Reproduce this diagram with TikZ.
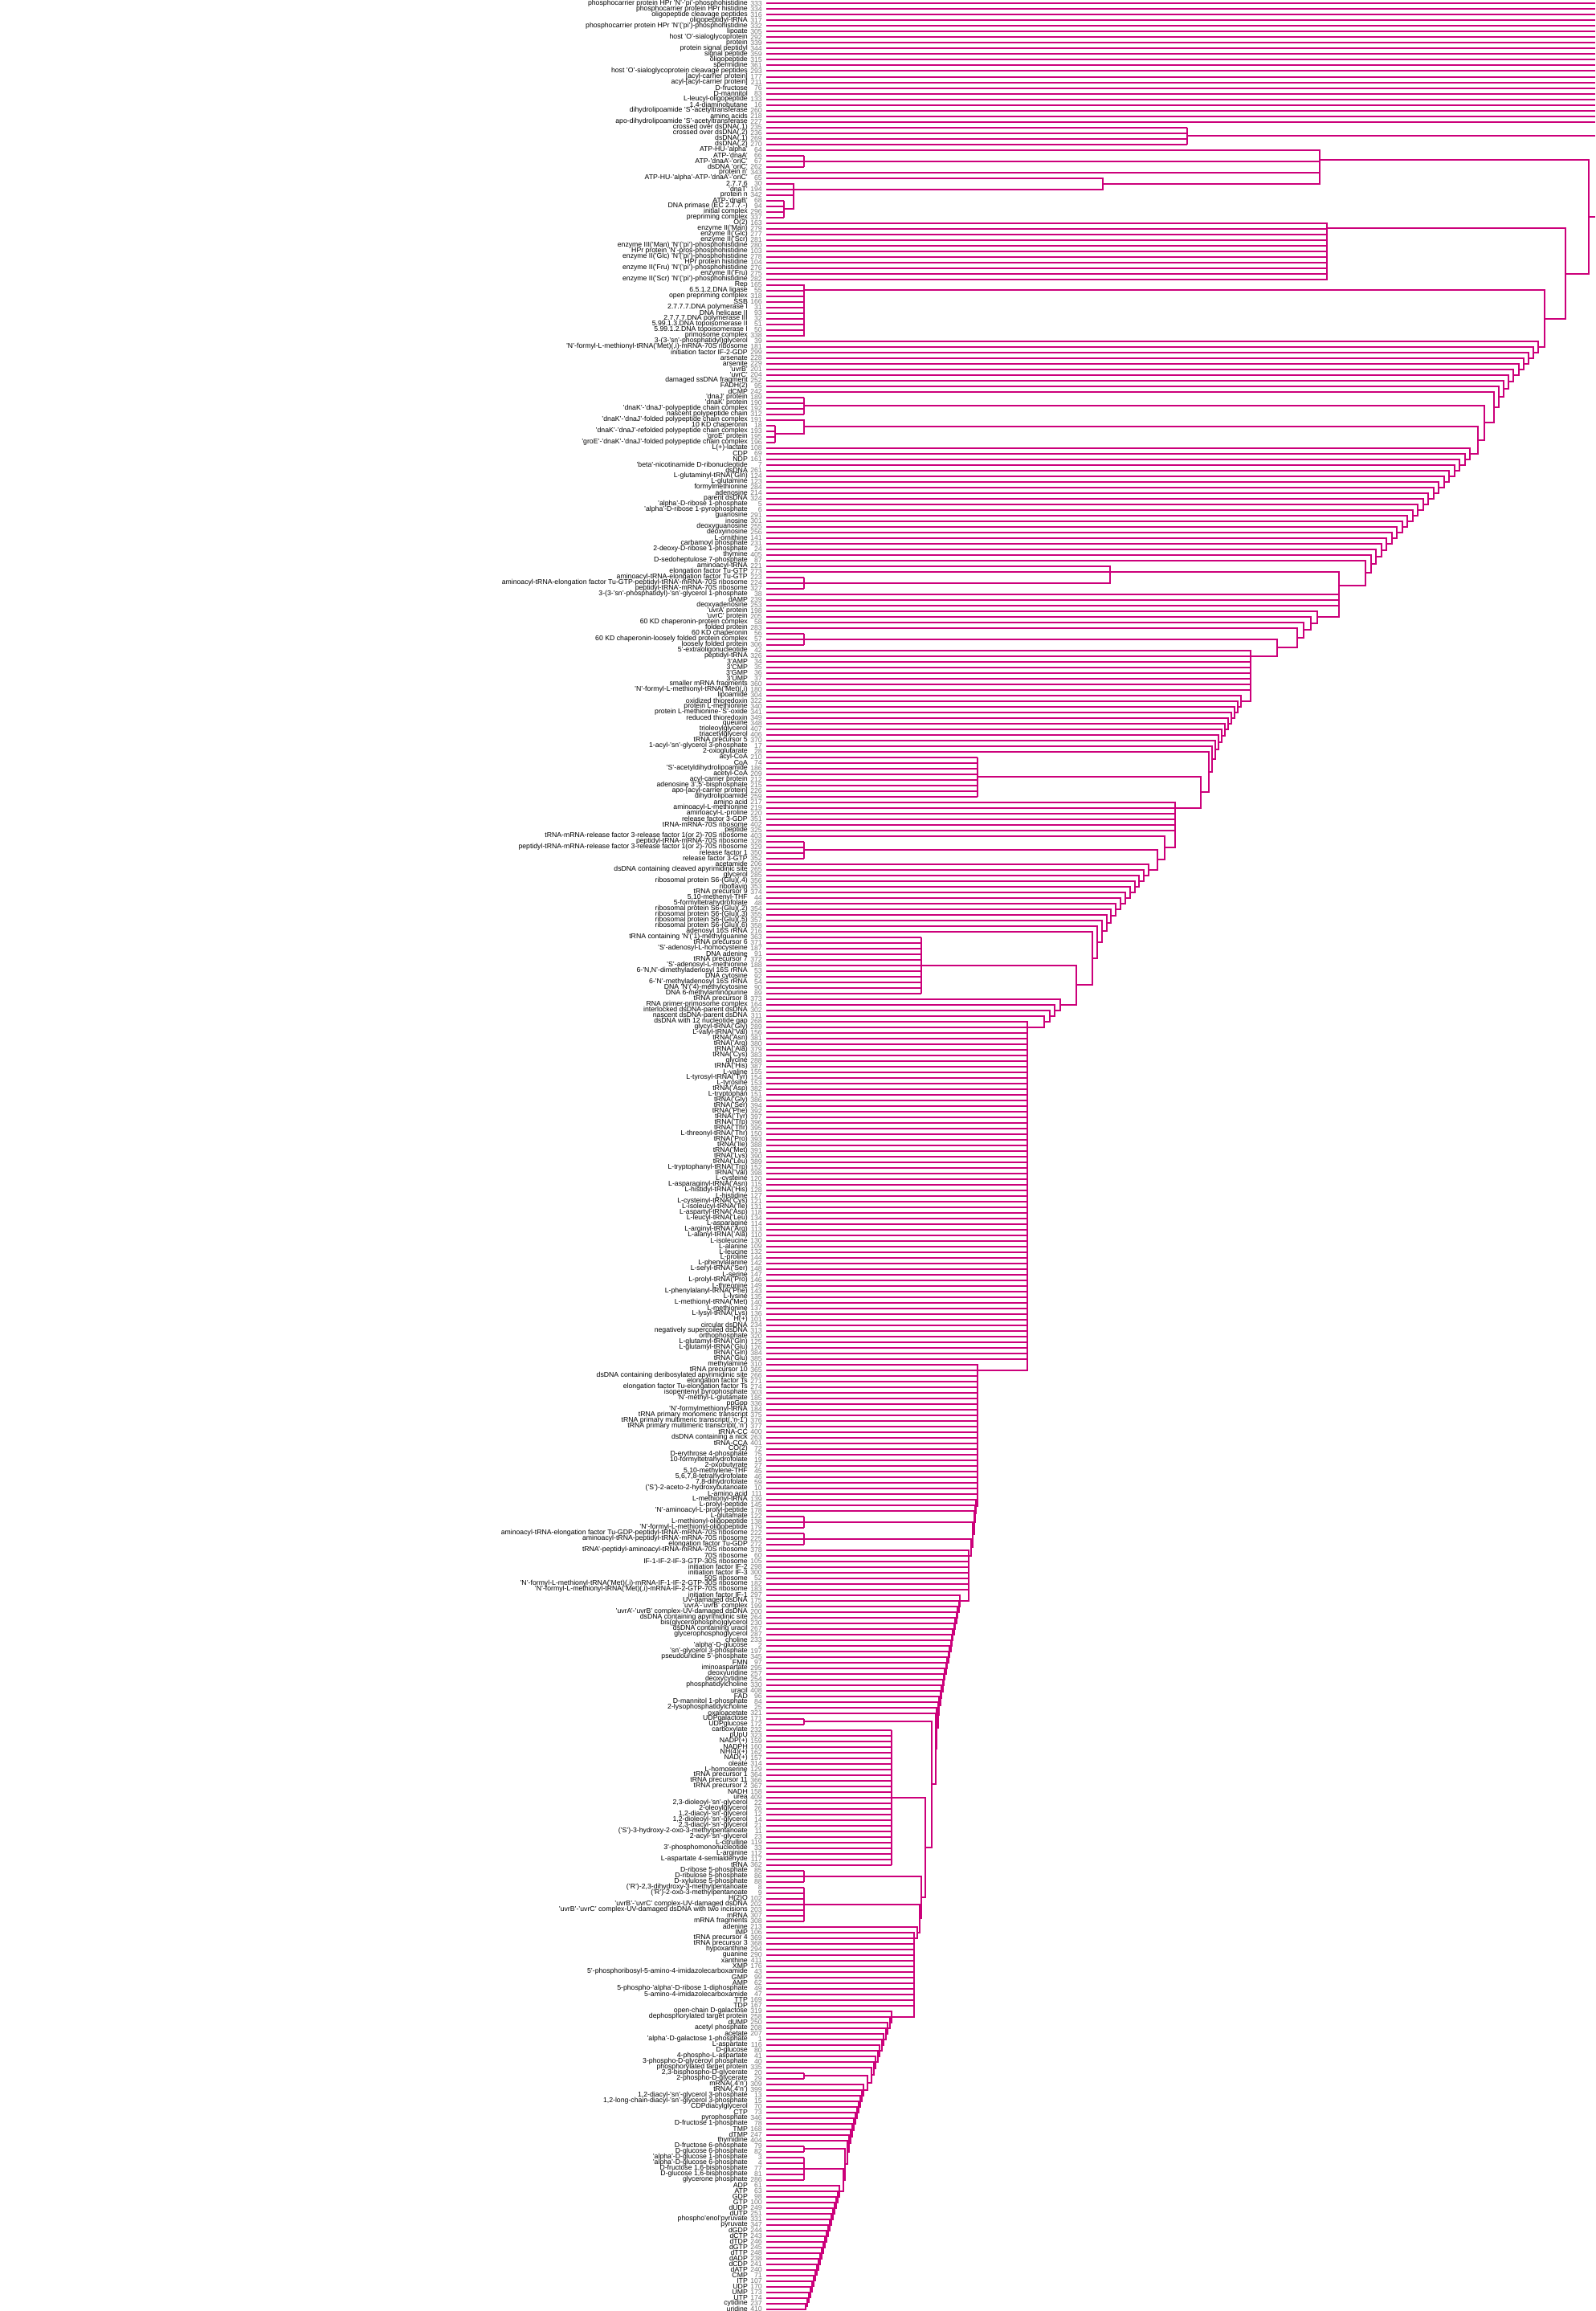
\documentclass[tikz,border=0pt]{standalone}
\usepackage{fontspec}
\setmainfont{Liberation Sans}
\definecolor{dendroPink}{RGB}{204,0,122}
\definecolor{numGray}{RGB}{120,120,120}

% chain of merges, built from the bottom up (x = height, y = row)
\newcommand{\cury}{0}
\newcommand{\curh}{0}
\newcommand{\chainstart}[2]{\xdef\cury{#1}\xdef\curh{#2}}
\newcommand{\chainstep}[3]{%
  \draw[edge] (#2,#1) -- (#3,#1) -- (#3,\cury) -- (\curh,\cury);
  \pgfmathsetmacro\nexty{(#1+\cury)/2}%
  \xdef\cury{\nexty}\xdef\curh{#3}}
\newcommand{\chainrange}[4]{%
  \foreach \rr in {#1,...,#2}{%
    \pgfmathsetmacro\hgt{#3+(#4-#3)*(#1-\rr)/max(1,#1-#2)}%
    \chainstep{\rr}{954}{\hgt}}}
\newcommand{\flatgroup}[3]{% leaves #1..#2 on one bar at #3, stem in the middle
  \foreach \rr in {#1,...,#2}{\draw[edge] (954,\rr) -- (#3,\rr);}
  \draw[edge] (#3,#1) -- (#3,#2);
  \pgfmathsetmacro\midy{(#1+#2)/2}%
  \xdef\cury{\midy}\xdef\curh{#3}}

\begin{document}
\begin{tikzpicture}[x=1pt, y=-7pt,
    lab/.style={anchor=east, inner sep=0pt, font=\fontsize{8.7}{9}\selectfont},
    num/.style={anchor=east, inner sep=0pt, text=numGray, font=\fontsize{8.7}{9}\selectfont},
    edge/.style={draw=dendroPink, line width=2pt, line join=miter}
  ]
  \useasboundingbox (0,-0.643) rectangle (1986,410.357);

  % ---- leaf labels -------------------------------------------------------
  \foreach \lab/\num [count=\r from 0] in {
    {phosphocarrier protein HPr 'N'-'pi'-phosphohistidine}/333,
    {phosphocarrier protein HPr histidine}/334,
    {oligopeptide cleavage peptides}/316,
    {oligopeptidyl-tRNA}/317,
    {phosphocarrier protein HPr 'N'('pi')-phosphohistidine}/332,
    {lipoate}/305,
    {host 'O'-sialoglycoprotein}/292,
    {protein}/339,
    {protein signal peptidyl}/344,
    {signal peptide}/359,
    {oligopeptide}/315,
    {spermidine}/361,
    {host 'O'-sialoglycoprotein cleavage peptides}/293,
    {[acyl-carrier protein]}/177,
    {acyl-[acyl-carrier protein]}/211,
    {D-fructose}/76,
    {D-mannitol}/83,
    {L-leucyl-oligopeptide}/133,
    {1,4-diaminobutane}/16,
    {dihydrolipoamide 'S'-acetyltransferase}/260,
    {amino acids}/218,
    {apo-dihydrolipoamide 'S'-acetyltransferase}/227,
    {crossed over dsDNA(,1)}/235,
    {crossed over dsDNA(,2)}/236,
    {dsDNA(,1)}/269,
    {dsDNA(,2)}/270,
    {ATP-HU-'alpha'}/64,
    {ATP-'dnaA'}/66,
    {ATP-'dnaA'-'oriC'}/67,
    {dsDNA 'oriC'}/262,
    {protein n'}/343,
    {ATP-HU-'alpha'-ATP-'dnaA'-'oriC'}/65,
    {2.7.7.6}/30,
    {'dnaT'}/194,
    {protein n}/342,
    {ATP-'dnaB'}/68,
    {DNA primase (EC 2.7.7.-)}/94,
    {initial complex}/296,
    {prepriming complex}/337,
    {O(2)}/163,
    {enzyme II('Man)}/279,
    {enzyme II('Glc)}/277,
    {enzyme II('Scr)}/281,
    {enzyme III('Man) 'N'('pi')-phosphohistidine}/280,
    {HPr protein 'N'-pros-phosphohistidine}/103,
    {enzyme II('Glc) 'N'('pi')-phosphohistidine}/278,
    {HPr protein histidine}/104,
    {enzyme II('Fru) 'N'('pi')-phosphohistidine}/276,
    {enzyme II('Fru)}/275,
    {enzyme II('Scr) 'N'('pi')-phosphohistidine}/282,
    {Rep}/165,
    {6.5.1.2.DNA ligase}/55,
    {open prepriming complex}/318,
    {SSB}/166,
    {2.7.7.7.DNA polymerase I}/31,
    {DNA helicase II}/93,
    {2.7.7.7.DNA polymerase III}/32,
    {5.99.1.3.DNA topoisomerase II}/51,
    {5.99.1.2.DNA topoisomerase I}/50,
    {primosome complex}/338,
    {3-(3-'sn'-phosphatidyl)glycerol}/39,
    {'N'-formyl-L-methionyl-tRNA('Met)(,i)-mRNA-70S ribosome}/181,
    {initiation factor IF-2-GDP}/299,
    {arsenate}/228,
    {arsenite}/229,
    {'uvrB'}/201,
    {'uvrC'}/204,
    {damaged ssDNA fragment}/252,
    {FADH(2)}/95,
    {dCMP}/242,
    {'dnaJ' protein}/189,
    {'dnaK' protein}/190,
    {'dnaK'-'dnaJ'-polypeptide chain complex}/192,
    {nascent polypeptide chain}/312,
    {'dnaK'-'dnaJ'-folded polypeptide chain complex}/191,
    {10 KD chaperonin}/18,
    {'dnaK'-'dnaJ'-refolded polypeptide chain complex}/193,
    {'groE' protein}/195,
    {'groE'-'dnaK'-'dnaJ'-folded polypeptide chain complex}/196,
    {L(+)-lactate}/108,
    {CDP}/69,
    {NDP}/161,
    {'beta'-nicotinamide D-ribonucleotide}/7,
    {dsDNA}/261,
    {L-glutaminyl-tRNA('Gln)}/124,
    {L-glutamine}/123,
    {formylmethionine}/284,
    {adenosine}/214,
    {parent dsDNA}/324,
    {'alpha'-D-ribose 1-phosphate}/5,
    {'alpha'-D-ribose 1-pyrophosphate}/6,
    {guanosine}/291,
    {inosine}/301,
    {deoxyguanosine}/255,
    {deoxyinosine}/256,
    {L-ornithine}/141,
    {carbamoyl phosphate}/231,
    {2-deoxy-D-ribose 1-phosphate}/24,
    {thymine}/405,
    {D-sedoheptulose 7-phosphate}/87,
    {aminoacyl-tRNA}/221,
    {elongation factor Tu-GTP}/273,
    {aminoacyl-tRNA-elongation factor Tu-GTP}/223,
    {aminoacyl-tRNA-elongation factor Tu-GTP-peptidyl-tRNA'-mRNA-70S ribosome}/224,
    {peptidyl-tRNA'-mRNA-70S ribosome}/327,
    {3-(3-'sn'-phosphatidyl)-'sn'-glycerol 1-phosphate}/38,
    {dAMP}/239,
    {deoxyadenosine}/253,
    {'uvrA' protein}/198,
    {'uvrC' protein}/205,
    {60 KD chaperonin-protein complex}/58,
    {folded protein}/283,
    {60 KD chaperonin}/56,
    {60 KD chaperonin-loosely folded protein complex}/57,
    {loosely folded protein}/306,
    {5'-extraoligonucleotide}/42,
    {peptidyl-tRNA}/326,
    {3'AMP}/34,
    {3'CMP}/35,
    {3'GMP}/36,
    {3'UMP}/37,
    {smaller mRNA fragments}/360,
    {'N'-formyl-L-methionyl-tRNA('Met)(,i)}/180,
    {lipoamide}/304,
    {oxidized thioredoxin}/322,
    {protein L-methionine}/340,
    {protein L-methionine-'S'-oxide}/341,
    {reduced thioredoxin}/349,
    {queuine}/348,
    {trioleoylglycerol}/407,
    {triacetylglycerol}/406,
    {tRNA precursor 5}/370,
    {1-acyl-'sn'-glycerol 3-phosphate}/17,
    {2-oxoglutarate}/28,
    {acyl-CoA}/210,
    {CoA}/74,
    {'S'-acetyldihydrolipoamide}/186,
    {acetyl-CoA}/209,
    {acyl-carrier protein}/212,
    {adenosine 3',5'-bisphosphate}/215,
    {apo-[acyl-carrier protein]}/226,
    {dihydrolipoamide}/259,
    {amino acid}/217,
    {aminoacyl-L-methionine}/219,
    {aminoacyl-L-proline}/220,
    {release factor 3-GDP}/351,
    {tRNA-mRNA-70S ribosome}/402,
    {peptide}/325,
    {tRNA-mRNA-release factor 3-release factor 1(or 2)-70S ribosome}/403,
    {peptidyl-tRNA-mRNA-70S ribosome}/328,
    {peptidyl-tRNA-mRNA-release factor 3-release factor 1(or 2)-70S ribosome}/329,
    {release factor 1}/350,
    {release factor 3-GTP}/352,
    {acetamide}/206,
    {dsDNA containing cleaved apyrimidinic site}/265,
    {glycerol}/285,
    {ribosomal protein S6-(Glu)(,4)}/356,
    {riboflavin}/353,
    {tRNA precursor 9}/374,
    {5,10-methenyl-THF}/44,
    {5-formyltetrahydrofolate}/48,
    {ribosomal protein S6-(Glu)(,2)}/354,
    {ribosomal protein S6-(Glu)(,3)}/355,
    {ribosomal protein S6-(Glu)(,5)}/357,
    {ribosomal protein S6-(Glu)(,6)}/358,
    {adenosyl 16S rRNA}/216,
    {tRNA containing 'N'('1)-methylguanine}/363,
    {tRNA precursor 6}/371,
    {'S'-adenosyl-L-homocysteine}/187,
    {DNA adenine}/91,
    {tRNA precursor 7}/372,
    {'S'-adenosyl-L-methionine}/188,
    {6-'N,N'-dimethyladenosyl 16S rRNA}/53,
    {DNA cytosine}/92,
    {6-'N'-methyladenosyl 16S rRNA}/54,
    {DNA 'N'('4)-methylcytosine}/90,
    {DNA 6-methylaminopurine}/89,
    {tRNA precursor 8}/373,
    {RNA primer-primosome complex}/164,
    {interlocked dsDNA-parent dsDNA}/302,
    {nascent dsDNA-parent dsDNA}/311,
    {dsDNA with 12 nucleotide gap}/268,
    {glycyl-tRNA('Gly)}/289,
    {L-valyl-tRNA('Val)}/156,
    {tRNA('Asn)}/381,
    {tRNA('Arg)}/380,
    {tRNA('Ala)}/379,
    {tRNA('Cys)}/383,
    {glycine}/288,
    {tRNA('His)}/387,
    {L-valine}/155,
    {L-tyrosyl-tRNA('Tyr)}/154,
    {L-tyrosine}/153,
    {tRNA('Asp)}/382,
    {L-tryptophan}/151,
    {tRNA('Gly)}/386,
    {tRNA('Ser)}/394,
    {tRNA('Phe)}/392,
    {tRNA('Tyr)}/397,
    {tRNA('Trp)}/396,
    {tRNA('Thr)}/395,
    {L-threonyl-tRNA('Thr)}/150,
    {tRNA('Pro)}/393,
    {tRNA('Ile)}/388,
    {tRNA('Met)}/391,
    {tRNA('Lys)}/390,
    {tRNA('Leu)}/389,
    {L-tryptophanyl-tRNA('Trp)}/152,
    {tRNA('Val)}/398,
    {L-cysteine}/120,
    {L-asparaginyl-tRNA('Asn)}/115,
    {L-histidyl-tRNA('His)}/128,
    {L-histidine}/127,
    {L-cysteinyl-tRNA('Cys)}/121,
    {L-isoleucyl-tRNA('Ile)}/131,
    {L-aspartyl-tRNA('Asp)}/118,
    {L-leucyl-tRNA('Leu)}/134,
    {L-asparagine}/114,
    {L-arginyl-tRNA('Arg)}/113,
    {L-alanyl-tRNA('Ala)}/110,
    {L-isoleucine}/130,
    {L-alanine}/109,
    {L-leucine}/132,
    {L-proline}/144,
    {L-phenylalanine}/142,
    {L-seryl-tRNA('Ser)}/148,
    {L-serine}/147,
    {L-prolyl-tRNA('Pro)}/146,
    {L-threonine}/149,
    {L-phenylalanyl-tRNA('Phe)}/143,
    {L-lysine}/135,
    {L-methionyl-tRNA('Met)}/140,
    {L-methionine}/137,
    {L-lysyl-tRNA('Lys)}/136,
    {H(+)}/101,
    {circular dsDNA}/234,
    {negatively supercoiled dsDNA}/313,
    {orthophosphate}/320,
    {L-glutamyl-tRNA('Gln)}/125,
    {L-glutamyl-tRNA('Glu)}/126,
    {tRNA('Gln)}/384,
    {tRNA('Glu)}/385,
    {methylamine}/310,
    {tRNA precursor 10}/365,
    {dsDNA containing deribosylated apyrimidinic site}/266,
    {elongation factor Ts}/271,
    {elongation factor Tu-elongation factor Ts}/274,
    {isopentenyl pyrophosphate}/303,
    {'N'-methyl-L-glutamate}/185,
    {ppGpp}/336,
    {'N'-formylmethionyl-tRNA}/184,
    {tRNA primary monomeric transcript}/375,
    {tRNA primary multimeric transcript(,'n-1')}/376,
    {tRNA primary multimeric transcript(,'n')}/377,
    {tRNA-CC}/400,
    {dsDNA containing a nick}/263,
    {tRNA-CCA}/401,
    {CO(2)}/72,
    {D-erythrose 4-phosphate}/75,
    {10-formyltetrahydrofolate}/19,
    {2-oxobutyrate}/27,
    {5,10-methylene-THF}/45,
    {5,6,7,8-tetrahydrofolate}/46,
    {7,8-dihydrofolate}/59,
    {('S')-2-aceto-2-hydroxybutanoate}/10,
    {L-amino acid}/111,
    {L-methionyl-tRNA}/139,
    {L-prolyl-peptide}/145,
    {'N'-aminoacyl-L-prolyl-peptide}/178,
    {L-glutamate}/122,
    {L-methionyl-oligopeptide}/138,
    {'N'-formyl-L-methionyl-oligopeptide}/179,
    {aminoacyl-tRNA-elongation factor Tu-GDP-peptidyl-tRNA'-mRNA-70S ribosome}/222,
    {aminoacyl-tRNA-peptidyl-tRNA'-mRNA-70S ribosome}/225,
    {elongation factor Tu-GDP}/272,
    {tRNA'-peptidyl-aminoacyl-tRNA-mRNA-70S ribosome}/378,
    {70S ribosome}/60,
    {IF-1-IF-2-IF-3-GTP-30S ribosome}/105,
    {initiation factor IF-2}/298,
    {initiation factor IF-3}/300,
    {50S ribosome}/52,
    {'N'-formyl-L-methionyl-tRNA('Met)(,i)-mRNA-IF-1-IF-2-GTP-30S ribosome}/182,
    {'N'-formyl-L-methionyl-tRNA('Met)(,i)-mRNA-IF-2-GTP-70S ribosome}/183,
    {initiation factor IF-1}/297,
    {UV-damaged dsDNA}/175,
    {'uvrA'-'uvrB' complex}/199,
    {'uvrA'-'uvrB' complex-UV-damaged dsDNA}/200,
    {dsDNA containing apyrimidinic site}/264,
    {bis(glycerophospho)glycerol}/230,
    {dsDNA containing uracil}/267,
    {glycerophosphoglycerol}/287,
    {choline}/233,
    {'alpha'-D-glucose}/2,
    {'sn'-glycerol 3-phosphate}/197,
    {pseudouridine 5'-phosphate}/345,
    {FMN}/97,
    {iminoaspartate}/295,
    {deoxyuridine}/257,
    {deoxycytidine}/254,
    {phosphatidylcholine}/330,
    {uracil}/408,
    {FAD}/96,
    {D-mannitol 1-phosphate}/84,
    {2-lysophosphatidylcholine}/25,
    {oxaloacetate}/321,
    {UDPgalactose}/171,
    {UDPglucose}/172,
    {carboxylate}/232,
    {pUpU}/323,
    {NADP(+)}/159,
    {NADPH}/160,
    {NH(4)(+)}/162,
    {NAD(+)}/157,
    {oleate}/314,
    {L-homoserine}/129,
    {tRNA precursor 1}/364,
    {tRNA precursor 11}/366,
    {tRNA precursor 2}/367,
    {NADH}/158,
    {urea}/409,
    {2,3-dioleoyl-'sn'-glycerol}/22,
    {2-oleoylglycerol}/26,
    {1,2-diacyl-'sn'-glycerol}/12,
    {1,2-dioleoyl-'sn'-glycerol}/14,
    {2,3-diacyl-'sn'-glycerol}/21,
    {('S')-3-hydroxy-2-oxo-3-methylpentanoate}/11,
    {2-acyl-'sn'-glycerol}/23,
    {L-citrulline}/119,
    {3'-phosphomononucleotide}/33,
    {L-arginine}/112,
    {L-aspartate 4-semialdehyde}/117,
    {tRNA}/362,
    {D-ribose 5-phosphate}/85,
    {D-ribulose 5-phosphate}/86,
    {D-xylulose 5-phosphate}/88,
    {('R')-2,3-dihydroxy-3-methylpentanoate}/8,
    {('R')-2-oxo-3-methylpentanoate}/9,
    {H(2)O}/102,
    {'uvrB'-'uvrC' complex-UV-damaged dsDNA}/202,
    {'uvrB'-'uvrC' complex-UV-damaged dsDNA with two incisions}/203,
    {mRNA}/307,
    {mRNA fragments}/308,
    {adenine}/213,
    {IMP}/106,
    {tRNA precursor 4}/369,
    {tRNA precursor 3}/368,
    {hypoxanthine}/294,
    {guanine}/290,
    {xanthine}/411,
    {XMP}/176,
    {5'-phosphoribosyl-5-amino-4-imidazolecarboxamide}/43,
    {GMP}/99,
    {AMP}/62,
    {5-phospho-'alpha'-D-ribose 1-diphosphate}/49,
    {5-amino-4-imidazolecarboxamide}/47,
    {TTP}/169,
    {TDP}/167,
    {open-chain D-galactose}/319,
    {dephosphorylated target protein}/258,
    {dUMP}/250,
    {acetyl phosphate}/208,
    {acetate}/207,
    {'alpha'-D-galactose 1-phosphate}/1,
    {L-aspartate}/116,
    {D-glucose}/80,
    {4-phospho-L-aspartate}/41,
    {3-phospho-D-glyceroyl phosphate}/40,
    {phosphorylated target protein}/335,
    {2,3-bisphospho-D-glycerate}/20,
    {2-phospho-D-glycerate}/29,
    {mRNA(,4'n')}/309,
    {tRNA(,4'n')}/399,
    {1,2-diacyl-'sn'-glycerol 3-phosphate}/13,
    {1,2-long-chain-diacyl-'sn'-glycerol 3-phosphate}/15,
    {CDPdiacylglycerol}/70,
    {CTP}/73,
    {pyrophosphate}/346,
    {D-fructose 1-phosphate}/78,
    {TMP}/168,
    {dTMP}/247,
    {thymidine}/404,
    {D-fructose 6-phosphate}/79,
    {D-glucose 6-phosphate}/82,
    {'alpha'-D-glucose 1-phosphate}/3,
    {'alpha'-D-glucose 6-phosphate}/4,
    {D-fructose 1,6-bisphosphate}/77,
    {D-glucose 1,6-bisphosphate}/81,
    {glycerone phosphate}/286,
    {ADP}/61,
    {ATP}/63,
    {GDP}/98,
    {GTP}/100,
    {dUDP}/249,
    {dUTP}/251,
    {phospho'enol'pyruvate}/331,
    {pyruvate}/347,
    {dGDP}/244,
    {dCTP}/243,
    {dTDP}/246,
    {dGTP}/245,
    {dTTP}/248,
    {dADP}/238,
    {dCDP}/241,
    {dATP}/240,
    {CMP}/71,
    {ITP}/107,
    {UDP}/170,
    {UMP}/173,
    {UTP}/174,
    {cytidine}/237,
    {uridine}/410}
  {
    \node[lab] (leaf\r) at (931,\r) {\lab};
    \node[num] (num\r) at (949,\r) {\num};
  }

  % ---- top rows run off the right edge ------------------------------------
  \foreach \r in {0,...,21} \draw[edge] (954,\r) -- (1986,\r);
  \flatgroup{22}{25}{1478}
  \draw[edge] (1478,\cury) -- (1986,\cury);

  % ---- replication block (rows 26-38) --------------------------------------
  \flatgroup{27}{29}{1001} \xdef\yA{\cury}
  \flatgroup{35}{38}{976}
  \chainstep{34}{954}{988}\chainstep{33}{954}{988}\chainstep{32}{954}{988}
  \chainstep{31}{954}{1373}
  \chainstep{30}{954}{1643}\chainstep{\yA}{1001}{1643}\chainstep{26}{954}{1643}
  \xdef\yD{\cury}

  % ---- small clusters hanging off the main chain ---------------------------
  \chainstart{49}{954}\foreach \r in {48,...,39}{\chainstep{\r}{954}{1652}}
  \xdef\yEnz{\cury}
  \chainstart{59}{954}\foreach \r in {58,...,50}{\chainstep{\r}{954}{1001}}
  \xdef\yRep{\cury}
  \flatgroup{70}{73}{1001} \xdef\yG{\cury}
  \flatgroup{75}{78}{965} \chainstep{74}{954}{1001} \xdef\yH{\cury}
  \flatgroup{102}{104}{1001}
  \chainstep{101}{954}{1382}\chainstep{100}{954}{1382} \xdef\yV{\cury}
  \flatgroup{112}{114}{1001} \xdef\yKD{\cury}
  \flatgroup{134}{141}{1217} \xdef\yAcp{\cury}
  \flatgroup{149}{152}{1001} \xdef\yRF{\cury}
  \flatgroup{166}{176}{1147} \xdef\yMet{\cury}
  \flatgroup{269}{271}{1001} \xdef\yGlu{\cury}
  \flatgroup{272}{274}{1001} \xdef\yGdp{\cury}
  \flatgroup{305}{306}{1001} \xdef\yUdp{\cury}
  \flatgroup{307}{331}{1110} \xdef\yCof{\cury}
  \flatgroup{332}{334}{1001} \xdef\yPen{\cury}
  \flatgroup{335}{341}{1001} \xdef\yMrna{\cury}
  \flatgroup{368}{369}{1001} \xdef\yPga{\cury}
  \flatgroup{381}{382}{1001} \xdef\yHex{\cury}
  \flatgroup{383}{387}{1001} \xdef\yBis{\cury}

  % ---- main staircase, bottom to top ---------------------------------------
  \chainstart{410}{954}
  \chainrange{409}{388}{1003}{1045}
  \chainstep{\yBis}{1001}{1050}
  \chainstep{\yHex}{1001}{1052}
  \chainrange{380}{370}{1055}{1075}
  \chainstep{\yPga}{1001}{1080}
  \chainrange{367}{357}{1085}{1110}
  \chainrange{356}{343}{1138}{1138}
  \chainstep{342}{954}{1142}
  \chainstep{\yMrna}{1001}{1145}
  \chainstep{\yPen}{1001}{1147}
  \chainstep{\yCof}{1110}{1152}
  \chainstep{\yUdp}{1001}{1160}
  \chainrange{304}{283}{1165}{1195}
  \chainrange{282}{275}{1206}{1206}
  \chainstep{\yGdp}{1001}{1209}
  \chainstep{\yGlu}{1001}{1211}
  \chainrange{268}{266}{1213}{1215}
  \chainrange{265}{242}{1217}{1217}
  \chainrange{241}{181}{1279}{1279}
  \chainrange{180}{177}{1300}{1320}
  \chainstep{\yMet}{1147}{1340}
  \chainrange{165}{153}{1360}{1430}
  \chainstep{\yRF}{1001}{1441}
  \chainstep{148}{954}{1450}
  \chainrange{147}{142}{1463}{1463}
  \chainstep{\yAcp}{1217}{1495}
  \chainrange{133}{123}{1505}{1545}
  \chainrange{122}{115}{1557}{1557}
  \chainstep{\yKD}{1001}{1590}
  \chainrange{111}{108}{1615}{1640}
  \chainrange{107}{105}{1667}{1667}
  \chainstep{\yV}{1382}{1667}
  \chainrange{99}{79}{1700}{1830}
  \chainstep{\yH}{1001}{1840}
  \chainstep{\yG}{1001}{1848}
  \chainrange{69}{60}{1860}{1915}
  \chainstep{\yRep}{1001}{1923}
  \chainstep{\yEnz}{1652}{1949}
  \chainstep{\yD}{1643}{1978}
  \draw[edge] (1978,\cury) -- (1986,\cury);
\end{tikzpicture}
\end{document}
